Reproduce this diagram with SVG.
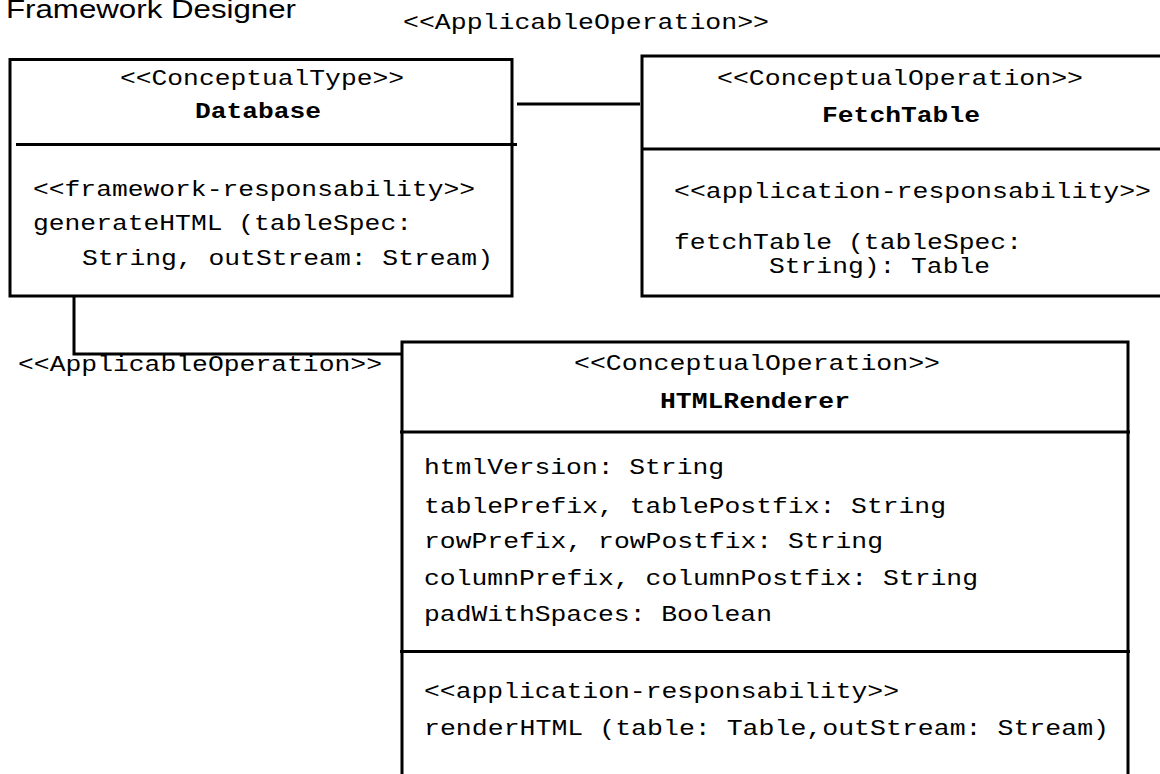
<svg xmlns="http://www.w3.org/2000/svg" width="1160" height="774" viewBox="0 0 1160 774">
  <style>
    .box { fill: #ffffff; stroke: #000000; stroke-width: 3; }
    .sep { stroke: #000000; stroke-width: 3; fill: none; }
    .conn { stroke: #000000; stroke-width: 3; fill: none; }
    .mono { font-family: "Liberation Mono", "Courier New", monospace; font-size: 22px; fill: #000000; }
    .name { font-weight: bold; }
    .mid { text-anchor: middle; }
    .title { font-family: "Liberation Sans", Arial, sans-serif; font-size: 26px; fill: #000000; }
  </style>
  <rect width="1160" height="774" fill="#ffffff"/>

  <text class="title" x="6" y="18" textLength="290" lengthAdjust="spacingAndGlyphs">Framework Designer</text>

  <!-- associations between the concepts -->
  <g id="connectors">
    <line class="conn" x1="517" y1="104" x2="640" y2="104"/>
    <polyline class="conn" points="74,296 74,354 401,354"/>
    <text class="mono" x="403" y="29" textLength="366" lengthAdjust="spacingAndGlyphs">&lt;&lt;ApplicableOperation&gt;&gt;</text>
    <text class="mono" x="18" y="371" textLength="364" lengthAdjust="spacingAndGlyphs">&lt;&lt;ApplicableOperation&gt;&gt;</text>
  </g>

  <!-- Database conceptual type -->
  <g id="database">
    <rect class="box" x="10" y="59.5" width="502" height="236.5"/>
    <line class="sep" x1="16" y1="144.5" x2="517" y2="144.5"/>
    <text class="mono mid" x="262" y="85" textLength="284" lengthAdjust="spacingAndGlyphs">&lt;&lt;ConceptualType&gt;&gt;</text>
    <text class="mono mid name" x="258" y="118" textLength="126" lengthAdjust="spacingAndGlyphs">Database</text>
    <text class="mono" x="33" y="196" textLength="442" lengthAdjust="spacingAndGlyphs">&lt;&lt;framework-responsability&gt;&gt;</text>
    <text class="mono" x="33" y="230" textLength="379" lengthAdjust="spacingAndGlyphs">generateHTML (tableSpec:</text>
    <text class="mono" x="82" y="265" textLength="411" lengthAdjust="spacingAndGlyphs">String, outStream: Stream)</text>
  </g>

  <!-- FetchTable conceptual operation -->
  <g id="fetchtable">
    <rect class="box" x="642" y="56" width="530" height="240"/>
    <line class="sep" x1="641" y1="149" x2="1170" y2="149"/>
    <text class="mono" x="717" y="85" textLength="366" lengthAdjust="spacingAndGlyphs">&lt;&lt;ConceptualOperation&gt;&gt;</text>
    <text class="mono name" x="822" y="122" textLength="158" lengthAdjust="spacingAndGlyphs">FetchTable</text>
    <text class="mono" x="674" y="198" textLength="477" lengthAdjust="spacingAndGlyphs">&lt;&lt;application-responsability&gt;&gt;</text>
    <text class="mono" x="674" y="249" textLength="348" lengthAdjust="spacingAndGlyphs">fetchTable (tableSpec:</text>
    <text class="mono" x="769" y="273" textLength="221" lengthAdjust="spacingAndGlyphs">String): Table</text>
  </g>

  <!-- HTMLRenderer conceptual operation -->
  <g id="htmlrenderer">
    <rect class="box" x="402" y="342" width="726" height="450"/>
    <line class="sep" x1="400" y1="432" x2="1130" y2="432"/>
    <line class="sep" x1="400" y1="651.5" x2="1130" y2="651.5"/>
    <text class="mono mid" x="757" y="370" textLength="366" lengthAdjust="spacingAndGlyphs">&lt;&lt;ConceptualOperation&gt;&gt;</text>
    <text class="mono mid name" x="755" y="408" textLength="190" lengthAdjust="spacingAndGlyphs">HTMLRenderer</text>
    <text class="mono" x="424" y="474" textLength="300" lengthAdjust="spacingAndGlyphs">htmlVersion: String</text>
    <text class="mono" x="424" y="513" textLength="522" lengthAdjust="spacingAndGlyphs">tablePrefix, tablePostfix: String</text>
    <text class="mono" x="424" y="548" textLength="459" lengthAdjust="spacingAndGlyphs">rowPrefix, rowPostfix: String</text>
    <text class="mono" x="424" y="585" textLength="554" lengthAdjust="spacingAndGlyphs">columnPrefix, columnPostfix: String</text>
    <text class="mono" x="424" y="621" textLength="348" lengthAdjust="spacingAndGlyphs">padWithSpaces: Boolean</text>
    <text class="mono" x="424" y="698" textLength="475" lengthAdjust="spacingAndGlyphs">&lt;&lt;application-responsability&gt;&gt;</text>
    <text class="mono" x="424" y="735" textLength="685" lengthAdjust="spacingAndGlyphs">renderHTML (table: Table,outStream: Stream)</text>
  </g>
</svg>
